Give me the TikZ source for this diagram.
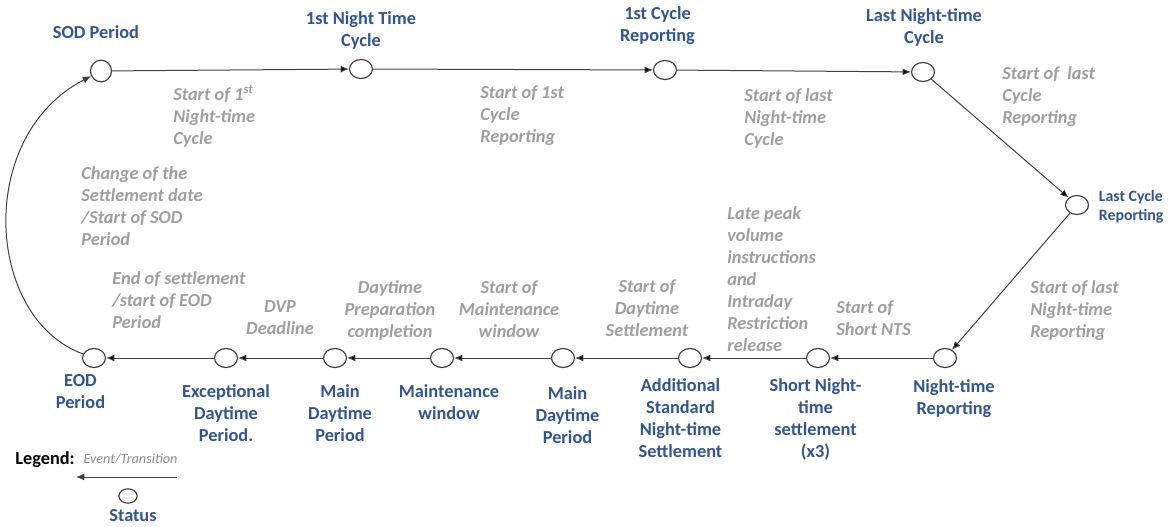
\documentclass[tikz,border=0pt]{standalone}
\usepackage{fontspec}
\setmainfont{Carlito}
\usepackage{xcolor}
\definecolor{colorStatus}{HTML}{2F5597}
\definecolor{colorEvent}{HTML}{9E9E9E}
\definecolor{colorLegend}{HTML}{8C8C8C}
\definecolor{colorLine}{HTML}{404040}
\usepackage{tikz}
\usetikzlibrary{arrows.meta, positioning, shapes.geometric}
\tikzset{
  status/.style={ellipse, draw=colorLine, fill=white, line width=0.7pt, minimum width=13.8pt, minimum height=11.4pt, inner sep=0pt},
  statlbl/.style={font=\fontsize{11}{13.2}\selectfont\bfseries, text=colorStatus, align=center, inner sep=0pt},
  evlbl/.style={font=\fontsize{11}{13.2}\selectfont\bfseries\itshape, text=colorEvent, align=left, inner sep=0pt, anchor=north west},
  evlblc/.style={evlbl, align=center, anchor=north},
  trans/.style={->, draw=colorLine, line width=0.6pt},
}

\begin{document}
\begin{tikzpicture}[>={Latex[length=5pt,width=4.2pt]}, x=0.6pt, y=-0.6pt]
\useasboundingbox (0,0) rectangle (1168,527);
% states
\node[status, minimum width=12.6pt, minimum height=13pt] (sod) at (101,71) {};
\node[status] (nt1) at (361,69) {};
\node[status] (cr1) at (665,70) {};
\node[status] (ntl) at (923,72) {};
\node[status] (crl) at (1077,205) {};
\node[status] (ntr) at (945,358) {};
\node[status] (snt) at (818,358) {};
\node[status] (asnt) at (690,358) {};
\node[status] (mdp2) at (563,358) {};
\node[status] (mw) at (442,358) {};
\node[status] (mdp1) at (335,358) {};
\node[status] (edp) at (226,358) {};
\node[status] (eod) at (94,358) {};
% state labels
\node[statlbl, above=12.6pt of sod, xshift=-3pt] (sodlbl) {SOD Period};
\node[statlbl, above=5.4pt of nt1] (nt1lbl) {1st Night Time\\Cycle};
\node[statlbl, above=9pt of cr1, xshift=-4.5pt] (cr1lbl) {1st Cycle\\Reporting};
\node[statlbl, above=9pt of ntl, xshift=0.6pt] (ntllbl) {Last Night-time\\Cycle};
\node[statlbl, right=5.7pt of crl, align=left, yshift=-1pt, font=\fontsize{9.5}{11.5}\selectfont\bfseries] (crllbl) {Last Cycle\\Reporting};
\node[statlbl, below=6.6pt of ntr, xshift=5.4pt] (ntrlbl) {Night-time\\Reporting};
\node[statlbl, below=6pt of snt, xshift=-1.5pt] (sntlbl) {Short Night-\\time\\settlement\\(x3)};
\node[statlbl, below=6pt of asnt, xshift=-5.7pt] (asntlbl) {Additional\\Standard\\Night-time\\Settlement};
\node[statlbl, below=11.2pt of mdp2, xshift=2.7pt] (mdp2lbl) {Main\\Daytime\\Period};
\node[statlbl, below=9.6pt of mw, xshift=4.2pt] (mwlbl) {Maintenance\\window};
\node[statlbl, below=9.6pt of mdp1, xshift=3pt] (mdp1lbl) {Main\\Daytime\\Period};
\node[statlbl, below=9.6pt of edp] (edplbl) {Exceptional\\Daytime\\Period.};
\node[statlbl, below=3.6pt of eod, xshift=-8.1pt] (eodlbl) {EOD\\Period};
% transitions
\draw [trans] (sod) edge (nt1);
\draw [trans] (nt1) edge (cr1);
\draw [trans] (cr1) edge (ntl);
\draw [trans] (ntl) edge (crl);
\draw [trans] (crl) edge (ntr);
\draw [trans] (ntr) edge (snt);
\draw [trans] (snt) edge (asnt);
\draw [trans] (asnt) edge (mdp2);
\draw [trans] (mdp2) edge (mw);
\draw [trans] (mw) edge (mdp1);
\draw [trans] (mdp1) edge (edp);
\draw [trans] (edp) edge (eod);
\draw [trans] (eod) .. controls (-15,318) and (-25,136) .. (sod);
% transition labels
\node[evlbl] (ev1) at (173,85) {Start of 1\textsuperscript{st}\\Night-time\\Cycle};
\node[evlbl] (ev2) at (480,85) {Start of 1st\\Cycle\\Reporting};
\node[evlbl] (ev3) at (744,88) {Start of last\\Night-time\\Cycle};
\node[evlbl] (ev4) at (1002,66) {Start of~~last\\Cycle\\Reporting};
\node[evlbl] (ev5) at (1030,280) {Start of last\\Night-time\\Reporting};
\node[evlbl] (ev6) at (836,300) {Start of\\Short NTS};
\node[evlbl] (ev7) at (727,206) {Late peak\\volume\\instructions\\and\\Intraday\\Restriction\\release};
\node[evlblc] (ev8) at (647,279) {Start of\\Daytime\\Settlement};
\node[evlblc] (ev9) at (509,280) {Start of\\Maintenance\\window};
\node[evlblc] (ev10) at (390,280) {Daytime\\Preparation\\completion};
\node[evlblc] (ev11) at (280,300) {DVP\\Deadline};
\node[evlbl] (ev12) at (112,271) {End of settlement\\/start of EOD\\Period};
\node[evlbl] (ev13) at (81,166) {Change of the\\Settlement date\\/Start of SOD\\Period};
% legend
\node[anchor=west, inner sep=0pt, font=\fontsize{11}{13.2}\selectfont\bfseries] (leg) at (15,460) {Legend:};
\node[inner sep=0pt, text=colorLegend, font=\fontsize{8.5}{10}\selectfont\itshape] (legev) at (130.5,459) {Event/Transition};
\coordinate (legtail) at (177,477);
\coordinate (leghead) at (76,477);
\draw [trans] (legtail) -- (leghead);
\node[status, minimum width=11pt, minimum height=8.6pt] (legstat) at (128,496) {};
\node[statlbl, below=3pt of legstat, xshift=3pt] (legstatlbl) {Status};
\end{tikzpicture}
\end{document}
